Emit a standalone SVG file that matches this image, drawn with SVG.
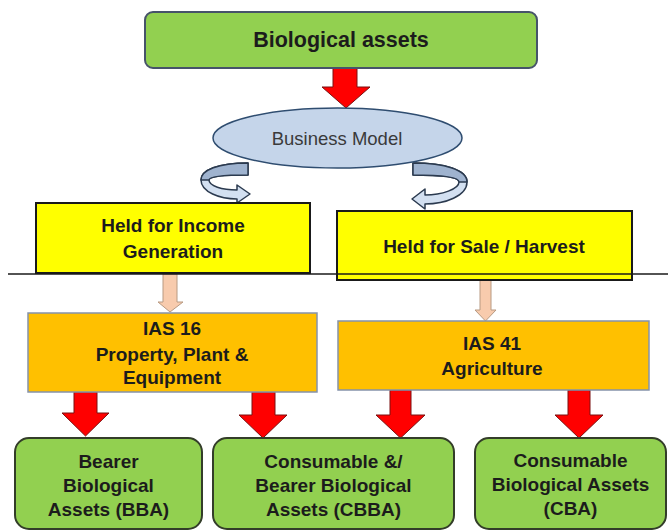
<svg xmlns="http://www.w3.org/2000/svg" width="668" height="531" viewBox="0 0 668 531">
<style>
  .lbl{font-family:"Liberation Sans",Arial,sans-serif;font-weight:bold;font-size:19px;fill:#1c1c1c;text-anchor:middle}
  .green{fill:#92d050;stroke:#333d29;stroke-width:2}
  .yellow{fill:#ffff00;stroke:#1a1a1a;stroke-width:2}
  .orange{fill:#ffc000;stroke:#8593aa;stroke-width:1.5}
  .red{fill:#ff0000;stroke:#7a1010;stroke-width:1}
  .peach{fill:#f8cbad;stroke:#b89a82;stroke-width:1}
  .curl{fill:#d3e0f1;stroke:#2b3a4f;stroke-width:1.5;stroke-linejoin:round}
  .curlback{fill:#9fb3cf;stroke:#2b3a4f;stroke-width:1.5;stroke-linejoin:round}
</style>
<rect width="668" height="531" fill="#ffffff"/>

<g id="connectors">
  <path class="red" d="M333 68 H357 V87 H370 L346 108 L322 87 H333 Z"/>
  <path class="curl" d="M248 163 C218 163 201 170 201 180 C201 192 220 199 237 199 L237 203 L250 194 L237 185 L237 190 C222 190 209 186 209 180 C209 176 225 175 248 175 Z"/>
  <path class="curlback" d="M248 163 C218 163 201 170 201 180 L209 180 C209 176 225 175 248 175 Z"/>
  <path class="curl" d="M413 163 C445 163 467 170 467 182 C467 196 445 204 425 204 L425 209 L412 199 L425 189 L425 195 C442 195 459 189 459 182 C459 177 440 175 413 175 Z"/>
  <path class="curlback" d="M413 163 C445 163 467 170 467 182 L459 182 C459 177 440 175 413 175 Z"/>
  <path class="peach" d="M163 274 H177 V302 H183 L170 312 L158 302 H163 Z"/>
  <path class="peach" d="M480 280 H491 V310 H496 L485.5 321 L475 310 H480 Z"/>
  <path class="red" d="M74 392 H97 V413 H109 L85.5 436 L62 413 H74 Z"/>
  <path class="red" d="M252 392 H275 V415 H287 L263 438 L239 415 H252 Z"/>
  <path class="red" d="M390 390 H411 V415 H425 L400.5 438 L376 415 H390 Z"/>
  <path class="red" d="M568 390 H590 V415 H603 L579 438 L555 415 H568 Z"/>
</g>

<g id="bio-assets">
  <rect class="green" x="145" y="12" width="392" height="56" rx="8" style="stroke:#46536a"/>
  <text class="lbl" x="341" y="47" style="font-size:21.5px">Biological assets</text>
</g>

<g id="business-model">
  <ellipse cx="337.5" cy="138" rx="124.5" ry="30" fill="#c5d5ea" stroke="#2f4d70" stroke-width="1.5"/>
  <text x="337" y="145" text-anchor="middle" font-family="Liberation Sans, Arial, sans-serif" font-size="18.5" fill="#3a3a3a">Business Model</text>
</g>

<g id="held-income">
  <rect class="yellow" x="36" y="203" width="274" height="70"/>
  <text class="lbl" x="173" y="232">Held for Income</text>
  <text class="lbl" x="173" y="258">Generation</text>
</g>

<g id="held-sale">
  <rect class="yellow" x="337" y="211" width="295" height="69"/>
  <text class="lbl" x="484" y="253">Held for Sale / Harvest</text>
</g>

<g id="divider">
  <line x1="8" y1="274" x2="668" y2="274" stroke="#1a1a1a" stroke-width="1.5"/>
</g>

<g id="ias16">
  <rect class="orange" x="28" y="313" width="289" height="79"/>
  <text class="lbl" x="172" y="335">IAS 16</text>
  <text class="lbl" x="172" y="361">Property, Plant &amp;</text>
  <text class="lbl" x="172" y="384">Equipment</text>
</g>

<g id="ias41">
  <rect class="orange" x="338" y="321" width="311" height="69"/>
  <text class="lbl" x="492" y="350">IAS 41</text>
  <text class="lbl" x="492" y="375">Agriculture</text>
</g>

<g id="bba">
  <rect class="green" x="15" y="438" width="187" height="91" rx="14"/>
  <text class="lbl" x="108.5" y="468">Bearer</text>
  <text class="lbl" x="108.5" y="492">Biological</text>
  <text class="lbl" x="108.5" y="516">Assets (BBA)</text>
</g>

<g id="cbba">
  <rect class="green" x="213" y="438" width="241" height="91" rx="14"/>
  <text class="lbl" x="333.5" y="468">Consumable &amp;/</text>
  <text class="lbl" x="333.5" y="492">Bearer Biological</text>
  <text class="lbl" x="333.5" y="516">Assets (CBBA)</text>
</g>

<g id="cba">
  <rect class="green" x="475" y="438" width="191" height="91" rx="14"/>
  <text class="lbl" x="570.5" y="467">Consumable</text>
  <text class="lbl" x="570.5" y="491">Biological Assets</text>
  <text class="lbl" x="570.5" y="515">(CBA)</text>
</g>
</svg>
